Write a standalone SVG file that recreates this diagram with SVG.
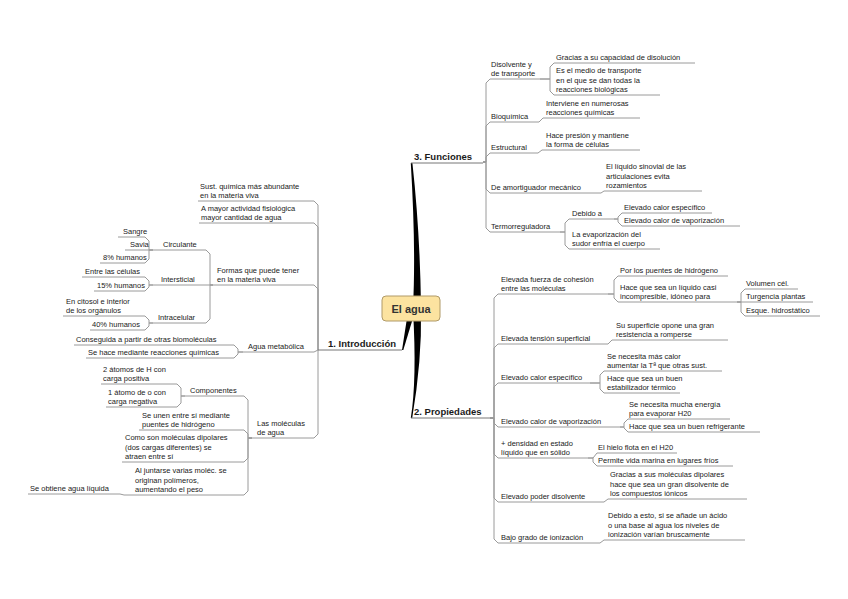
<svg xmlns="http://www.w3.org/2000/svg" width="848" height="599" viewBox="0 0 848 599">
<style>
text{font-family:"Liberation Sans",Arial,sans-serif;font-size:7.5px;fill:#1a1a1a}
.m{font-weight:bold;font-size:9.5px}
.ul{stroke:#9a9a9a;stroke-width:1;fill:none}
.mu{stroke:#777;stroke-width:1;fill:none}
.c path{stroke:#9a9a9a;stroke-width:1;fill:none}
.sp{fill:#000}
</style>
<rect width="848" height="599" fill="#fff"/>
<g id="spokes">
<path class="sp" d="M410.8,163 Q416,250 413,306 L421,306 Q420,232 412.4,163 Z"/>
<path class="sp" d="M413,310 Q417,380 410.8,418 L412.2,418 Q422,360 421,310 Z"/>
<path class="sp" d="M407,318 L413,318 L403.3,350 L402,350 Z"/>
</g>
<g id="connectors" class="c">
<path d="M483,162 H486 V83 L490,79"/>
<path d="M483,162 H486 V126 L490,122"/>
<path d="M483,162 H486 V157 L490,153"/>
<path d="M483,162 H486 V189 L490,193"/>
<path d="M483,162 H486 V228 L490,232"/>
<path d="M540,79 H550 V67 L554,63"/>
<path d="M540,79 H550 V91 L554,95"/>
<path d="M531,122 H539 L543,118"/>
<path d="M530,153 H538 L542,150"/>
<path d="M598,193 H601 L604,191"/>
<path d="M560,232 H565 V223 L569,219"/>
<path d="M560,232 H565 V245 L569,249"/>
<path d="M614,219 H618 V217 L622,213"/>
<path d="M614,219 H618 V222 L622,226"/>
<path d="M490,418 H494 V298 L498,294"/>
<path d="M490,418 H494 V348 L498,344"/>
<path d="M490,418 H494 V387 L498,383"/>
<path d="M490,418 H494 V423 L498,427"/>
<path d="M490,418 H494 V454 L498,458"/>
<path d="M490,418 H494 V498 L498,502"/>
<path d="M490,418 H494 V539 L498,543"/>
<path d="M608,294 H614 V280 L618,276"/>
<path d="M608,294 H614 V298 L618,302"/>
<path d="M737,302 H741 V293 L745,289"/>
<path d="M737,302 H745"/>
<path d="M737,302 H741 V312 L745,316"/>
<path d="M607,344 H608 L612,340"/>
<path d="M590,383 H600 V375 L604,371"/>
<path d="M590,383 H600 V389 L604,393"/>
<path d="M620,427 H624 V423 L628,419"/>
<path d="M620,427 H624 V428 L628,432"/>
<path d="M588,458 H593 L597,453"/>
<path d="M588,458 H593 V462 L597,466"/>
<path d="M602,502 H604 L608,499"/>
<path d="M590,543 H600 L604,540"/>
<path d="M318,350 V205 L314,201"/>
<path d="M318,350 V227 L314,223"/>
<path d="M318,350 V289 L314,285"/>
<path d="M318,350 L314,352"/>
<path d="M318,350 V434 L314,438"/>
<path d="M213,285 H210 V254 L206,250"/>
<path d="M213,285 H206"/>
<path d="M213,285 H210 V319 L206,323"/>
<path d="M153,250 H149 V241 L145,237"/>
<path d="M153,250 H145"/>
<path d="M153,250 H149 V259 L145,263"/>
<path d="M153,285 H149 V281 L145,277"/>
<path d="M153,285 H149 V287 L145,291"/>
<path d="M153,323 H149 V320 L145,316"/>
<path d="M153,323 H149 V326 L145,330"/>
<path d="M243,352 H238 V349 L234,345"/>
<path d="M243,352 H238 V354 L234,358"/>
<path d="M252,438 H248 V400 L244,396"/>
<path d="M252,438 H248 V434 L244,430"/>
<path d="M252,438 H248 V458 L244,462"/>
<path d="M252,438 H248 V491 L244,495"/>
<path d="M185,396 H181 V388 L177,384"/>
<path d="M185,396 H181 V403 L177,407"/>
<path d="M128,495 H124 L120,494"/>
</g>
<g id="central">
<rect x="382" y="296" width="58" height="25" rx="4" fill="#fce3a0" stroke="#b09a68" stroke-width="1"/>
<text x="411" y="312.5" text-anchor="middle" style="font-weight:bold;font-size:11px;fill:#333">El agua</text>
</g>
<g id="funciones"><text class="m" x="414" y="160">3. Funciones</text><path class="mu" d="M411,163 H483"/></g>
<g id="propiedades"><text class="m" x="414" y="415">2. Propiedades</text><path class="mu" d="M411,418 H490"/></g>
<g id="introduccion"><text class="m" x="328" y="347">1. Introducción</text><path class="mu" d="M318,350 H402"/></g>
<g id="disolvente"><text x="491" y="66.5">Disolvente y</text><text x="491" y="76">de transporte</text><path class="ul" d="M490,79 H540"/></g>
<g id="gracias"><text x="556" y="60">Gracias a su capacidad de disolución</text><path class="ul" d="M554,63 H695"/></g>
<g id="medio"><text x="556" y="73">Es el medio de transporte</text><text x="556" y="82.5">en el que se dan todas la</text><text x="556" y="92">reacciones biológicas</text><path class="ul" d="M554,95 H660"/></g>
<g id="bioquimica"><text x="491" y="119">Bioquímica</text><path class="ul" d="M490,122 H531"/></g>
<g id="interviene"><text x="546" y="105.5">Interviene en numerosas</text><text x="546" y="115">reacciones químicas</text><path class="ul" d="M543,118 H640"/></g>
<g id="estructural"><text x="491" y="150">Estructural</text><path class="ul" d="M490,153 H530"/></g>
<g id="presion"><text x="546" y="137.5">Hace presión y mantiene</text><text x="546" y="147">la forma de células</text><path class="ul" d="M542,150 H640"/></g>
<g id="amortiguador"><text x="491" y="190">De amortiguador mecánico</text><path class="ul" d="M490,193 H598"/></g>
<g id="sinovial"><text x="606" y="169">El líquido sinovial de las</text><text x="606" y="178.5">articulaciones evita</text><text x="606" y="188">rozamientos</text><path class="ul" d="M604,191 H702"/></g>
<g id="termo"><text x="491" y="229">Termorreguladora</text><path class="ul" d="M490,232 H560"/></g>
<g id="debido"><text x="572" y="216">Debido a</text><path class="ul" d="M569,219 H614"/></g>
<g id="calesp1"><text x="624" y="210">Elevado calor específico</text><path class="ul" d="M622,213 H712"/></g>
<g id="calvap1"><text x="624" y="223">Elevado calor de vaporización</text><path class="ul" d="M622,226 H740"/></g>
<g id="evaporizacion"><text x="572" y="236.5">La evaporización del</text><text x="572" y="246">sudor enfría el cuerpo</text><path class="ul" d="M569,249 H660"/></g>
<g id="cohesion"><text x="501" y="281.5">Elevada fuerza de cohesión</text><text x="501" y="291">entre las moléculas</text><path class="ul" d="M498,294 H608"/></g>
<g id="puentes"><text x="620" y="273">Por los puentes de hidrógeno</text><path class="ul" d="M618,276 H728"/></g>
<g id="incompresible"><text x="620" y="289.5">Hace que sea un líquido casi</text><text x="620" y="299">incompresible, idóneo para</text><path class="ul" d="M618,302 H737"/></g>
<g id="volumen"><text x="746" y="286">Volumen cél.</text><path class="ul" d="M745,289 H798"/></g>
<g id="turgencia"><text x="746" y="299">Turgencia plantas</text><path class="ul" d="M745,302 H813"/></g>
<g id="esque"><text x="746" y="313">Esque. hidrostático</text><path class="ul" d="M745,316 H820"/></g>
<g id="tension"><text x="501" y="341">Elevada tensión superficial</text><path class="ul" d="M498,344 H607"/></g>
<g id="superficie"><text x="616" y="327.5">Su superficie opone una gran</text><text x="616" y="337">resistencia a romperse</text><path class="ul" d="M612,340 H728"/></g>
<g id="calesp2"><text x="501" y="380">Elevado calor específico</text><path class="ul" d="M498,383 H590"/></g>
<g id="mascalor"><text x="607" y="358.5">Se necesita más calor</text><text x="607" y="368">aumentar la Tª que otras sust.</text><path class="ul" d="M604,371 H722"/></g>
<g id="estabilizador"><text x="607" y="380.5">Hace que sea un buen</text><text x="607" y="390">estabilizador térmico</text><path class="ul" d="M604,393 H680"/></g>
<g id="calvap2"><text x="501" y="424">Elevado calor de vaporización</text><path class="ul" d="M498,427 H620"/></g>
<g id="energia"><text x="629" y="406.5">Se necesita mucha energía</text><text x="629" y="416">para evaporar H20</text><path class="ul" d="M628,419 H730"/></g>
<g id="refrigerante"><text x="629" y="429">Hace que sea un buen refrigerante</text><path class="ul" d="M628,432 H760"/></g>
<g id="densidad"><text x="501" y="445.5">+ densidad en estado</text><text x="501" y="455">líquido que en sólido</text><path class="ul" d="M498,458 H588"/></g>
<g id="hielo"><text x="598" y="450">El hielo flota en el H20</text><path class="ul" d="M597,453 H677"/></g>
<g id="marina"><text x="598" y="463">Permite vida marina en lugares fríos</text><path class="ul" d="M597,466 H733"/></g>
<g id="poder"><text x="501" y="499">Elevado poder disolvente</text><path class="ul" d="M498,502 H602"/></g>
<g id="dipolares"><text x="610" y="477">Gracias a sus moléculas dipolares</text><text x="610" y="486.5">hace que sea un gran disolvente de</text><text x="610" y="496">los compuestos iónicos</text><path class="ul" d="M608,499 H747"/></g>
<g id="ionizacion"><text x="501" y="540">Bajo grado de ionización</text><path class="ul" d="M498,543 H590"/></g>
<g id="acido"><text x="608" y="518">Debido a esto, si se añade un ácido</text><text x="608" y="527.5">o una base al agua los niveles de</text><text x="608" y="537">ionización varían bruscamente</text><path class="ul" d="M604,540 H745"/></g>
<g id="sust"><text x="200" y="188.5">Sust. química más abundante</text><text x="200" y="198">en la materia viva</text><path class="ul" d="M198,201 H314"/></g>
<g id="actividad"><text x="201" y="210.5">A mayor actividad fisiológica</text><text x="201" y="220">mayor cantidad de agua</text><path class="ul" d="M199,223 H314"/></g>
<g id="formas"><text x="217" y="272.5">Formas que puede tener</text><text x="217" y="282">en la materia viva</text><path class="ul" d="M213,285 H314"/></g>
<g id="circulante"><text x="163" y="247">Circulante</text><path class="ul" d="M153,250 H206"/></g>
<g id="sangre"><text x="123" y="234">Sangre</text><path class="ul" d="M118,237 H145"/></g>
<g id="savia"><text x="130" y="247">Savia</text><path class="ul" d="M125,250 H145"/></g>
<g id="h8"><text x="103" y="260">8% humanos</text><path class="ul" d="M100,263 H145"/></g>
<g id="intersticial"><text x="161" y="282">Intersticial</text><path class="ul" d="M153,285 H206"/></g>
<g id="entre"><text x="85" y="274">Entre las células</text><path class="ul" d="M82,277 H145"/></g>
<g id="h15"><text x="97" y="288">15% humanos</text><path class="ul" d="M94,291 H145"/></g>
<g id="intracelular"><text x="158" y="320">Intracelular</text><path class="ul" d="M153,323 H206"/></g>
<g id="citosol"><text x="66" y="303.5">En citosol e interior</text><text x="66" y="313">de los orgánulos</text><path class="ul" d="M63,316 H145"/></g>
<g id="h40"><text x="92" y="327">40% humanos</text><path class="ul" d="M90,330 H145"/></g>
<g id="metabolica"><text x="248" y="349">Agua metabólica</text><path class="ul" d="M243,352 H314"/></g>
<g id="conseguida"><text x="76" y="342">Conseguida a partir de otras biomoléculas</text><path class="ul" d="M74,345 H234"/></g>
<g id="reacciones"><text x="88" y="355">Se hace mediante reacciones químicas</text><path class="ul" d="M86,358 H234"/></g>
<g id="moleculas"><text x="257" y="425.5">Las moléculas</text><text x="257" y="435">de agua</text><path class="ul" d="M252,438 H314"/></g>
<g id="componentes"><text x="190" y="393">Componentes</text><path class="ul" d="M185,396 H244"/></g>
<g id="h2"><text x="103" y="371.5">2 átomos de H con</text><text x="103" y="381">carga positiva</text><path class="ul" d="M101,384 H177"/></g>
<g id="o1"><text x="108" y="394.5">1 átomo de o con</text><text x="108" y="404">carga negativa</text><path class="ul" d="M106,407 H177"/></g>
<g id="unen"><text x="142" y="417.5">Se unen entre sí mediante</text><text x="142" y="427">puentes de hidrógeno</text><path class="ul" d="M139,430 H244"/></g>
<g id="comoson"><text x="125" y="440">Como son moléculas dipolares</text><text x="125" y="449.5">(dos cargas diferentes) se</text><text x="125" y="459">atraen entre sí</text><path class="ul" d="M122,462 H244"/></g>
<g id="juntarse"><text x="135" y="473">Al juntarse varias moléc. se</text><text x="135" y="482.5">originan polímeros,</text><text x="135" y="492">aumentando el peso</text><path class="ul" d="M128,495 H244"/></g>
<g id="liquida"><text x="30" y="491">Se obtiene agua líquida</text><path class="ul" d="M28,494 H120"/></g>
</svg>
